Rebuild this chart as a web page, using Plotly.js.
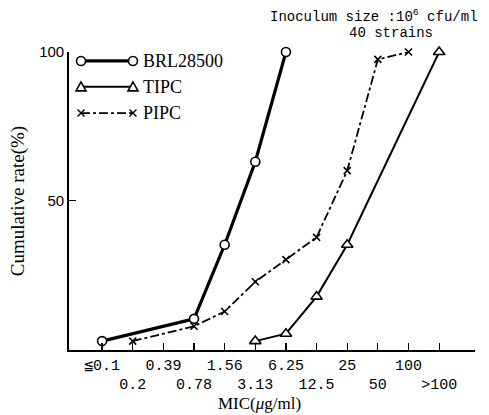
<!DOCTYPE html>
<html>
<head>
<meta charset="utf-8">
<script src="https://cdn.plot.ly/plotly-3.0.1.min.js"></script>
<style>html,body{margin:0;padding:0;background:#fff;}#chart{width:489px;height:415px;}</style>
</head>
<body>
<div id="chart"></div>
<script>
// MIC categories (µg/ml)
const micLabels = ["≦0.1", "0.2", "0.39", "0.78", "1.56", "3.13", "6.25", "12.5", "25", "50", "100", ">100"];
const micIndex = [0, 1, 2, 3, 4, 5, 6, 7, 8, 9, 10, 11];

// Cumulative rate (%) per drug
const brlX = ["≦0.1", "0.78", "1.56", "3.13", "6.25"];
const brlY = [2.5, 10, 35, 63, 100];

const tipcX = ["3.13", "6.25", "12.5", "25", ">100"];
const tipcY = [2.5, 5, 17.5, 35, 100];

const pipcX = ["0.2", "0.78", "1.56", "3.13", "6.25", "12.5", "25", "50", "100"];
const pipcY = [2.5, 7.5, 12.5, 22.5, 30, 37.5, 60, 97.5, 100];

const seriesNames = ["BRL28500", "TIPC", "PIPC"];

const idx = lbl => micLabels.indexOf(lbl);
// staggered tick labels: odd categories on the second row
const tickText = micLabels.map((t, i) => i % 2 ? "<br>" + t : t);

const traces = [
  {x: brlX.map(idx), y: brlY, name: seriesNames[0], mode: "lines+markers", cliponaxis: false,
   line: {color: "#000", width: 3.2},
   marker: {symbol: "circle", size: 9, color: "#fff", line: {color: "#000", width: 1.6}}},
  {x: tipcX.map(idx), y: tipcY, name: seriesNames[1], mode: "lines+markers", cliponaxis: false,
   line: {color: "#000", width: 2},
   marker: {symbol: "triangle-up", size: 10, color: "#fff", line: {color: "#000", width: 1.6}}},
  {x: pipcX.map(idx), y: pipcY, name: seriesNames[2], mode: "lines+markers", cliponaxis: false,
   line: {color: "#000", width: 1.8, dash: "dashdot"},
   marker: {symbol: "x-thin-open", size: 7, color: "#000", line: {color: "#000", width: 1.6}}}
];

// custom legend (line with a marker at both ends)
const L = {x0: 0.0296, x1: 0.1576, tx: 0.177, ys: [0.970, 0.883, 0.795]};
const shapes = [];
const annotations = [];
const legendWidth = [3.2, 2, 1.8];
const legendDash = ["solid", "solid", "dashdot"];
seriesNames.forEach((n, k) => {
  const y = L.ys[k];
  shapes.push({type: "line", xref: "paper", yref: "paper", x0: L.x0, x1: L.x1, y0: y, y1: y,
               line: {color: "#000", width: legendWidth[k], dash: legendDash[k]}});
  [L.x0, L.x1].forEach(xa => {
    if (k === 0) {
      shapes.push({type: "circle", xref: "paper", yref: "paper", xsizemode: "pixel", ysizemode: "pixel",
                   xanchor: xa, yanchor: y, x0: -4.5, x1: 4.5, y0: -4.5, y1: 4.5,
                   fillcolor: "#fff", line: {color: "#000", width: 1.6}});
    } else if (k === 1) {
      shapes.push({type: "path", xref: "paper", yref: "paper", xsizemode: "pixel", ysizemode: "pixel",
                   xanchor: xa, yanchor: y, path: "M -5 -4 L 5 -4 L 0 5 Z",
                   fillcolor: "#fff", line: {color: "#000", width: 1.6}});
    } else {
      shapes.push({type: "path", xref: "paper", yref: "paper", xsizemode: "pixel", ysizemode: "pixel",
                   xanchor: xa, yanchor: y, path: "M -3.5 -3.5 L 3.5 3.5 M -3.5 3.5 L 3.5 -3.5",
                   line: {color: "#000", width: 1.4}});
    }
  });
  annotations.push({xref: "paper", yref: "paper", x: L.tx, y: y, xanchor: "left", yanchor: "middle",
                    text: n, showarrow: false,
                    font: {family: "Liberation Serif, serif", size: 18, color: "#000"}});
});

annotations.push({xref: "paper", yref: "paper", x: 0.752, y: 1.0, yshift: 36, xanchor: "center", yanchor: "middle",
  text: "Inoculum size :10<sup>6</sup> cfu/ml", showarrow: false,
  font: {family: "Liberation Mono, monospace", size: 14, color: "#000"}});
annotations.push({xref: "paper", yref: "paper", x: 0.793, y: 1.0, yshift: 19, xanchor: "center", yanchor: "middle",
  text: "40 strains", showarrow: false,
  font: {family: "Liberation Mono, monospace", size: 14, color: "#000"}});
annotations.push({xref: "paper", yref: "paper", x: 0.47, y: 0, yshift: -53, xanchor: "center", yanchor: "middle",
  text: "MIC(<i>μ</i>g/ml)", showarrow: false,
  font: {family: "Liberation Serif, serif", size: 17, color: "#000"}});

const layout = {
  width: 489, height: 415,
  margin: {l: 69, r: 14, t: 52, b: 65},
  paper_bgcolor: "#fff", plot_bgcolor: "#fff",
  showlegend: false,
  font: {color: "#000"},
  xaxis: {
    range: [-1.08, 12.17], tickmode: "array", tickvals: micIndex, ticktext: tickText,
    tickangle: 0,
    ticks: "inside", ticklen: 7, tickwidth: 1.2, tickcolor: "#000",
    showline: true, linecolor: "#000", linewidth: 1.8, showgrid: false, zeroline: false,
    tickfont: {family: "Liberation Mono, monospace", size: 15, color: "#000"}
  },
  yaxis: {
    range: [-0.5, 100], tickmode: "array", tickvals: [50, 100], ticktext: ["50", "100"],
    ticks: "inside", ticklen: 7, tickwidth: 1.2, tickcolor: "#000",
    showline: true, linecolor: "#000", linewidth: 1.8, showgrid: false, zeroline: false,
    tickfont: {family: "Liberation Sans, sans-serif", size: 15, color: "#000"},
    title: {text: "Cumulative rate(%)", standoff: 9,
            font: {family: "Liberation Serif, serif", size: 19, color: "#000"}}
  },
  shapes: shapes,
  annotations: annotations
};

Plotly.newPlot("chart", traces, layout, {displayModeBar: false, staticPlot: true});
</script>
</body>
</html>
